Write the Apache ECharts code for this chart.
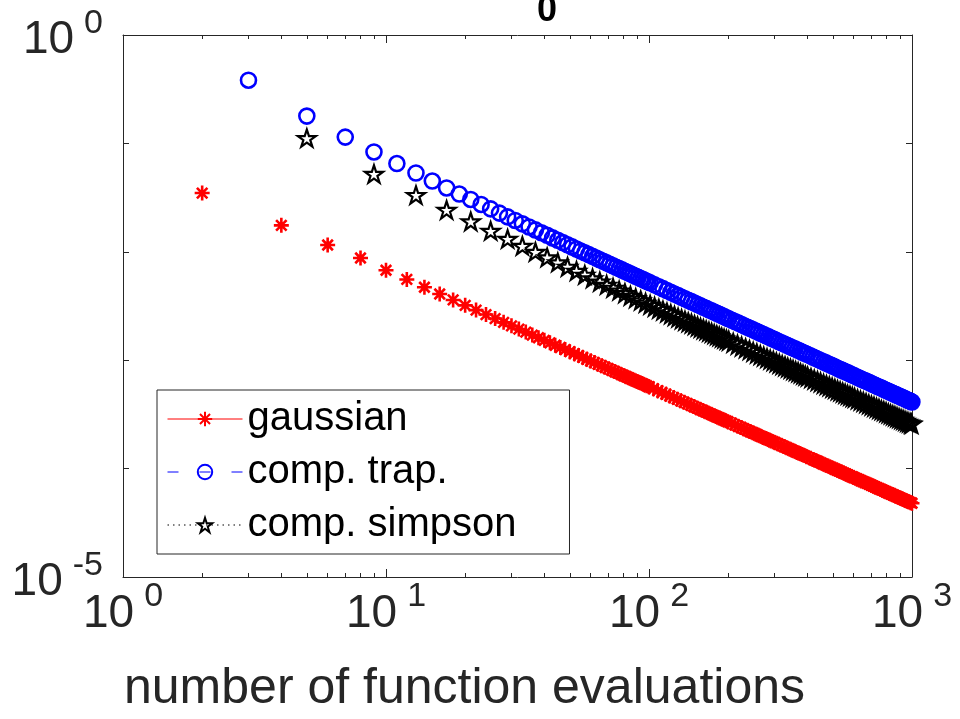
<!DOCTYPE html>
<html>
<head>
<meta charset="utf-8">
<script src="https://cdn.jsdelivr.net/npm/echarts@6.0.0/dist/echarts.min.js"></script>
<style>
  html, body { margin: 0; padding: 0; background: #fff; }
  #chart { width: 960px; height: 719px; }
</style>
</head>
<body>
<div id="chart"></div>
<script>
// number of function evaluations (x) and log10 of the error (y)
const nGauss = [2,4,6,8,10,12,14,16,18,20,22,24,26,28,30,32,34,36,38,40,42,44,46,48,50,52,54,56,58,60,62,64,66,68,70,72,74,76,78,80,82,84,86,88,90,92,94,96,98,100,
  104,108,112,116,120,124,128,132,136,140,144,148,152,156,160,164,168,172,176,180,184,188,192,196,200,
  206,212,218,224,230,236,242,248,254,260,266,272,278,284,290,296,302,
  310,318,326,334,342,350,358,366,374,382,390,398,
  410,420,430,440,450,460,470,480,490,500,510,520,530,540,550,560,570,580,590,600,
  616,628,640,652,664,676,688,700,712,724,736,748,760,772,784,796,808,820,832,844,856,868,880,892,904,916,928,940,952,964,976,988,1000];
const logErrGauss = [-1.458,-1.756,-1.937,-2.057,-2.170,-2.255,-2.327,-2.389,-2.444,-2.494,-2.538,-2.579,-2.616,-2.651,-2.683,-2.713,-2.741,-2.768,-2.793,-2.817,-2.840,-2.862,-2.883,-2.902,-2.921,-2.940,-2.957,-2.974,-2.991,-3.007,-3.022,-3.037,-3.051,-3.065,-3.078,-3.092,-3.104,-3.117,-3.129,-3.141,-3.152,-3.164,-3.175,-3.185,-3.196,-3.206,-3.216,-3.226,-3.236,-3.245,
  -3.263,-3.281,-3.298,-3.314,-3.330,-3.345,-3.360,-3.375,-3.389,-3.402,-3.415,-3.428,-3.440,-3.453,-3.464,-3.476,-3.487,-3.498,-3.509,-3.519,-3.530,-3.540,-3.550,-3.559,-3.569,
  -3.582,-3.596,-3.609,-3.621,-3.634,-3.646,-3.658,-3.669,-3.680,-3.691,-3.702,-3.712,-3.722,-3.732,-3.742,-3.752,-3.761,
  -3.773,-3.785,-3.797,-3.808,-3.819,-3.830,-3.840,-3.851,-3.861,-3.871,-3.880,-3.890,
  -3.904,-3.915,-3.926,-3.937,-3.947,-3.958,-3.968,-3.977,-3.987,-3.996,-4.006,-4.015,-4.024,-4.032,-4.041,-4.049,-4.058,-4.066,-4.074,-4.082,
  -4.094,-4.103,-4.112,-4.120,-4.129,-4.137,-4.145,-4.154,-4.161,-4.169,-4.177,-4.184,-4.192,-4.199,-4.206,-4.214,-4.221,-4.227,-4.234,-4.241,-4.247,-4.254,-4.260,-4.267,-4.273,-4.279,-4.285,-4.291,-4.297,-4.303,-4.309,-4.314,-4.320];

const nTrap = [3,5,7,9,11,13,15,17,19,21,23,25,27,29,31,33,35,37,39,41,43,45,47,49,51,53,55,57,59,61,63,65,67,69,71,73,75,77,79,81,83,85,87,89,91,93,95,97,99,101,
  105,109,113,117,121,125,129,133,137,141,145,149,153,157,161,165,169,173,177,181,185,189,193,197,201,
  207,213,219,225,231,237,243,249,255,261,267,273,279,285,291,297,303,
  311,319,327,335,343,351,359,367,375,383,391,399,
  411,421,431,441,451,461,471,481,491,501,511,521,531,541,551,561,571,581,591,601,
  617,629,641,653,665,677,689,701,713,725,737,749,761,773,785,797,809,821,833,845,857,869,881,893,905,917,929,941,953,965,977,989,999];
const logErrTrap = [-0.417,-0.748,-0.942,-1.079,-1.186,-1.273,-1.347,-1.411,-1.467,-1.517,-1.563,-1.604,-1.643,-1.678,-1.711,-1.742,-1.771,-1.798,-1.824,-1.848,-1.872,-1.894,-1.915,-1.935,-1.955,-1.974,-1.992,-2.009,-2.026,-2.042,-2.058,-2.073,-2.087,-2.102,-2.116,-2.129,-2.142,-2.155,-2.167,-2.179,-2.191,-2.203,-2.214,-2.225,-2.236,-2.246,-2.256,-2.267,-2.276,-2.286,
  -2.305,-2.323,-2.340,-2.357,-2.373,-2.389,-2.404,-2.419,-2.433,-2.447,-2.460,-2.473,-2.486,-2.498,-2.511,-2.522,-2.534,-2.545,-2.556,-2.567,-2.577,-2.588,-2.598,-2.608,-2.617,
  -2.631,-2.645,-2.658,-2.671,-2.684,-2.696,-2.708,-2.720,-2.731,-2.743,-2.753,-2.764,-2.774,-2.785,-2.795,-2.804,-2.814,
  -2.827,-2.839,-2.851,-2.862,-2.873,-2.885,-2.895,-2.906,-2.916,-2.926,-2.936,-2.946,
  -2.960,-2.972,-2.983,-2.994,-3.005,-3.015,-3.025,-3.035,-3.045,-3.055,-3.064,-3.074,-3.083,-3.092,-3.100,-3.109,-3.117,-3.126,-3.134,-3.142,
  -3.155,-3.164,-3.173,-3.182,-3.190,-3.199,-3.207,-3.216,-3.224,-3.232,-3.240,-3.247,-3.255,-3.262,-3.270,-3.277,-3.284,-3.291,-3.298,-3.305,-3.312,-3.318,-3.325,-3.331,-3.338,-3.344,-3.350,-3.356,-3.363,-3.369,-3.374,-3.380,-3.385];

const nSimp = [5,9,13,17,21,25,29,33,37,41,45,49,53,57,61,65,69,73,77,81,85,89,93,97,101,105,109,113,117,121,125,129,133,137,141,145,149,153,157,161,165,169,173,177,181,185,189,193,197,201,
  209,217,225,233,241,249,257,265,273,281,289,297,305,313,321,329,337,345,353,361,369,377,385,393,401,
  413,425,437,449,461,473,485,497,509,521,533,545,557,569,581,593,
  605,621,637,653,669,685,701,717,733,749,765,781,797,813,829,845,861,877,893,909,925,941,957,973,989,997];
const logErrSimp = [-0.951,-1.282,-1.476,-1.614,-1.720,-1.807,-1.881,-1.945,-2.001,-2.051,-2.097,-2.138,-2.177,-2.212,-2.245,-2.276,-2.305,-2.332,-2.358,-2.382,-2.406,-2.428,-2.449,-2.470,-2.489,-2.508,-2.526,-2.543,-2.560,-2.576,-2.592,-2.607,-2.622,-2.636,-2.650,-2.663,-2.676,-2.689,-2.701,-2.714,-2.725,-2.737,-2.748,-2.759,-2.770,-2.780,-2.791,-2.801,-2.811,-2.820,
  -2.839,-2.857,-2.874,-2.891,-2.907,-2.923,-2.938,-2.953,-2.967,-2.981,-2.994,-3.007,-3.020,-3.033,-3.045,-3.056,-3.068,-3.079,-3.090,-3.101,-3.111,-3.122,-3.132,-3.142,-3.151,
  -3.165,-3.179,-3.192,-3.205,-3.218,-3.230,-3.242,-3.254,-3.265,-3.277,-3.287,-3.298,-3.309,-3.319,-3.329,-3.339,
  -3.348,-3.361,-3.373,-3.385,-3.396,-3.408,-3.419,-3.429,-3.440,-3.450,-3.460,-3.470,-3.480,-3.490,-3.499,-3.508,-3.517,-3.526,-3.534,-3.543,-3.551,-3.559,-3.568,-3.575,-3.583,-3.587];

const seriesNames = ['gaussian', 'comp. trap.', 'comp. simpson'];

// ticks
const xMajorTicks = [1, 10, 100, 1000];
const xMinorTicks = [2,3,4,5,6,7,8,9,20,30,40,50,60,70,80,90,200,300,400,500,600,700,800,900];
const yTicks = [1e-5, 1e-4, 1e-3, 1e-2, 1e-1, 1];
const yLabelTicks = [1e-5, 1];

const FONT = 'Liberation Sans';
const AX = '#262626';

const ASTERISK = 'path://M50 0L50 100M0 50L100 50M15 15L85 85M15 85L85 15';
const STAR = 'path://M50 0L61.23 34.55L97.55 34.55L68.17 55.9L79.39 90.45L50 69.1L20.61 90.45L31.83 55.9L2.45 34.55L38.77 34.55Z';

function toPoints(ns, logs) {
  return ns.map((n, i) => [n, Math.pow(10, logs[i])]);
}

function powLabel(v) {
  const e = Math.round(Math.log10(v));
  return '{b|10}{s|' + e + '}';
}

const richLabel = {
  b: { fontFamily: FONT, fontSize: 46, color: AX, verticalAlign: 'bottom' },
  s: { fontFamily: FONT, fontSize: 34, color: AX, verticalAlign: 'bottom', padding: [0, 0, 23, 10] }
};

const chart = echarts.init(document.getElementById('chart'));

function logX(pos, ticks, len, withLine, labels) {
  return {
    type: 'log', logBase: 10, min: 1, max: 1000, gridIndex: 0, position: pos,
    axisLine: { show: withLine, onZero: false, lineStyle: { color: AX, width: 1 } },
    axisTick: { show: true, inside: true, length: len, customValues: ticks, lineStyle: { color: AX, width: 1 } },
    minorTick: { show: false },
    splitLine: { show: false },
    axisLabel: labels ? {
      show: true, customValues: xMajorTicks, margin: 3, formatter: powLabel, rich: richLabel
    } : { show: false }
  };
}

const xMain = logX('bottom', xMajorTicks, 8, true, true);
xMain.name = 'number of function evaluations';
xMain.nameLocation = 'middle';
xMain.nameGap = 87;
xMain.nameTextStyle = { fontFamily: FONT, fontSize: 50, color: AX, padding: [0, 106, 0, 0] };

const option = {
  animation: false,
  backgroundColor: '#fff',
  grid: { left: 123, top: 35, width: 789, height: 543, containLabel: false },
  xAxis: [
    xMain,
    logX('bottom', xMinorTicks, 4, false, false),
    logX('top', xMajorTicks, 8, true, false),
    logX('top', xMinorTicks, 4, false, false)
  ],
  yAxis: [
    {
      type: 'log', logBase: 10, min: 1e-5, max: 1, position: 'left',
      axisLine: { show: true, onZero: false, lineStyle: { color: AX, width: 1 } },
      axisTick: { show: true, inside: true, length: 6, customValues: yTicks, lineStyle: { color: AX } },
      splitLine: { show: false },
      axisLabel: { show: true, customValues: yLabelTicks, margin: 20, formatter: powLabel, rich: richLabel }
    },
    {
      type: 'log', logBase: 10, min: 1e-5, max: 1, position: 'right',
      axisLine: { show: true, onZero: false, lineStyle: { color: AX, width: 1 } },
      axisTick: { show: true, inside: true, length: 6, customValues: yTicks, lineStyle: { color: AX } },
      splitLine: { show: false },
      axisLabel: { show: false }
    }
  ],
  legend: {
    orient: 'vertical', left: 157, top: 390,
    padding: [9, 53, 9, 10],
    itemWidth: 75, itemHeight: 18, itemGap: 13,
    backgroundColor: '#fff', borderColor: AX, borderWidth: 1,
    textStyle: { fontFamily: FONT, fontSize: 40, lineHeight: 40, color: '#000' },
    data: [
      { name: seriesNames[0], lineStyle: { color: '#ff0000', width: 1, type: 'solid', opacity: 1 } },
      { name: seriesNames[1], lineStyle: { color: '#0000ff', width: 1, type: [11, 21], opacity: 1 } },
      { name: seriesNames[2], lineStyle: { color: '#000000', width: 1, type: [1.5, 4], opacity: 1 } }
    ]
  },
  graphic: [
    { type: 'text', left: 537, top: -7, silent: true,
      style: { text: '0', font: 'bold 36px "Liberation Sans"', fill: '#000' } }
  ],
  series: [
    {
      name: seriesNames[0], type: 'line', data: toPoints(nGauss, logErrGauss),
      symbol: ASTERISK, symbolSize: 15, showAllSymbol: true,
      itemStyle: { color: 'rgba(0,0,0,0)', borderColor: '#ff0000', borderWidth: 2.6 },
      lineStyle: { opacity: 0 }, silent: true
    },
    {
      name: seriesNames[1], type: 'line', data: toPoints(nTrap, logErrTrap),
      symbol: 'circle', symbolSize: 15, showAllSymbol: true,
      itemStyle: { color: 'rgba(0,0,0,0)', borderColor: '#0000ff', borderWidth: 2.6 },
      lineStyle: { opacity: 0 }, silent: true
    },
    {
      name: seriesNames[2], type: 'line', data: toPoints(nSimp, logErrSimp),
      symbol: STAR, symbolSize: 18, symbolKeepAspect: true, showAllSymbol: true,
      itemStyle: { color: 'rgba(0,0,0,0)', borderColor: '#000000', borderWidth: 2.2 },
      lineStyle: { opacity: 0 }, silent: true
    }
  ]
};

chart.setOption(option);
</script>
</body>
</html>
